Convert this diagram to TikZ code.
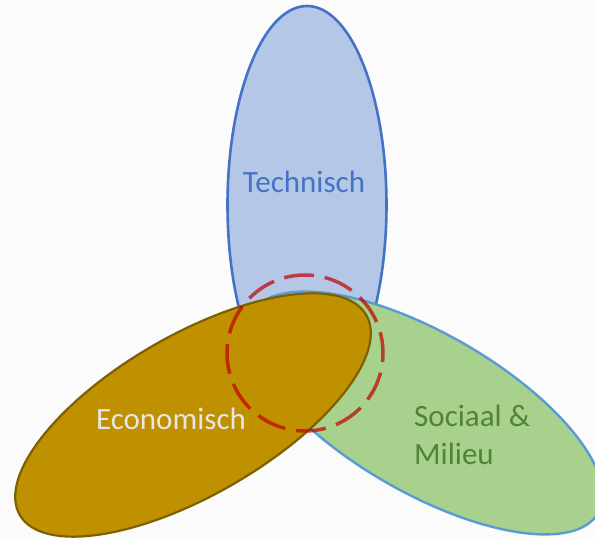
\documentclass[tikz,border=0pt]{standalone}
\usepackage{fontspec}
\setmainfont{Carlito}
\definecolor{bgc}{HTML}{FAFBFA}
\definecolor{techfill}{HTML}{B4C7E7}
\definecolor{techline}{HTML}{4472C4}
\definecolor{socfill}{HTML}{A9D18E}
\definecolor{socline}{HTML}{5B9BD5}
\definecolor{ecofill}{HTML}{BF9000}
\definecolor{ecoline}{HTML}{7F6000}
\definecolor{ecotext}{HTML}{E7E6E6}
\definecolor{soctext}{HTML}{548235}
\definecolor{focusred}{HTML}{C00000}
\begin{document}
\begin{tikzpicture}[x=1pt,y=1pt,
  techstyle/.style={fill=techfill,draw=techline,line width=2.6pt},
  socstyle/.style={fill=socfill,draw=socline,line width=2.4pt},
  ecostyle/.style={fill=ecofill,draw=ecoline,line width=2.2pt},
  focusstyle/.style={draw=focusred,draw opacity=0.7,line width=3.5pt,dash pattern=on 30 off 10.84,dash phase=9},
  lbl/.style={inner sep=0pt,font=\fontsize{31}{37}\selectfont}]
\useasboundingbox (0,0) rectangle (595,538);
\fill[bgc] (0,0) rectangle (595,538);
\draw[techstyle] (307,333) ellipse [x radius=79.5, y radius=199];
\draw[socstyle, rotate around={-30:(425,125)}] (425,125) ellipse [x radius=200, y radius=79.5];
\draw[ecostyle, rotate around={30:(193,123)}] (193,123) ellipse [x radius=200, y radius=80];
\draw[focusstyle] (305,185) circle [radius=78];
\node[lbl,text=techline,anchor=base] (tech) at (304,345) {Technisch};
\node[lbl,text=ecotext,anchor=base] (eco) at (171,108) {Economisch};
\node[lbl,text=soctext,anchor=base west] (soc1) at (414,111.3) {Sociaal \&};
\node[lbl,text=soctext,anchor=base west] (soc2) at (414,73) {Milieu};
\end{tikzpicture}
\end{document}
